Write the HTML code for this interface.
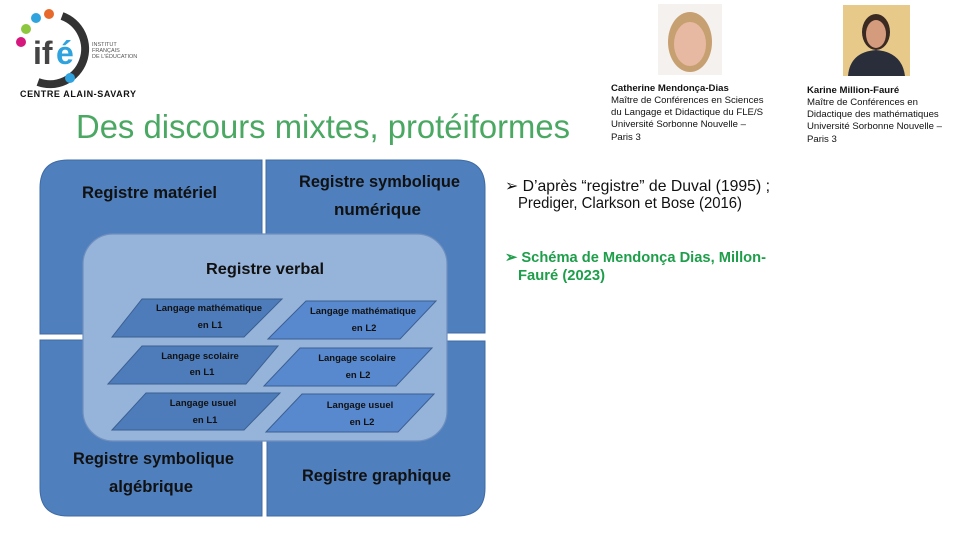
<!DOCTYPE html>
<html><head><meta charset="utf-8"><style>
html,body{margin:0;padding:0;background:#fff;}
svg{display:block;font-family:"Liberation Sans",sans-serif;}
</style></head><body>
<svg width="960" height="540" viewBox="0 0 960 540" xmlns="http://www.w3.org/2000/svg">
<!-- logo -->
<path d="M62 16 A34 34 0 1 1 38 82" fill="none" stroke="#333" stroke-width="8"/>
<circle cx="49" cy="14" r="5" fill="#e8692c"/>
<circle cx="36" cy="18" r="5" fill="#2fa3dd"/>
<circle cx="26" cy="29" r="5" fill="#8dc63f"/>
<circle cx="21" cy="42" r="5" fill="#d6177d"/>
<circle cx="70" cy="78" r="5" fill="#2fa3dd"/>
<text x="33" y="64" font-size="32" fill="#444" font-weight="bold">if</text>
<text x="56" y="64" font-size="32" fill="#2fa3dd" font-weight="bold">é</text>
<text x="92" y="46" font-size="5.5" fill="#555">INSTITUT</text>
<text x="92" y="52" font-size="5.5" fill="#555">FRANÇAIS</text>
<text x="92" y="58" font-size="5.5" fill="#555">DE L'ÉDUCATION</text>
<text x="20" y="97" font-size="9" font-weight="bold" fill="#111" textLength="116">CENTRE ALAIN-SAVARY</text>
<!-- photos -->
<rect x="658" y="4" width="64" height="71" fill="#f4f1ee"/>
<ellipse cx="690" cy="42" rx="22" ry="30" fill="#c7a071"/>
<ellipse cx="690" cy="44" rx="16" ry="22" fill="#e7b9a2"/>
<rect x="843" y="5" width="67" height="71" fill="#e7c98a"/>
<ellipse cx="876" cy="32" rx="14" ry="18" fill="#3a2a22"/>
<ellipse cx="876" cy="34" rx="10" ry="14" fill="#d49b7c"/>
<path d="M848 76 Q850 52 876 50 Q902 52 905 76 Z" fill="#2a2d3a"/>
<g font-size="9.6" fill="#111">
<text x="611" y="91" font-weight="bold">Catherine Mendonça-Dias</text>
<text x="611" y="103">Maître de Conférences en Sciences</text>
<text x="611" y="115">du Langage et Didactique du FLE/S</text>
<text x="611" y="127">Université Sorbonne Nouvelle –</text>
<text x="611" y="140">Paris 3</text>
<text x="807" y="93" font-weight="bold">Karine Million-Fauré</text>
<text x="807" y="105">Maître de Conférences en</text>
<text x="807" y="117">Didactique des mathématiques</text>
<text x="807" y="129">Université Sorbonne Nouvelle –</text>
<text x="807" y="142">Paris 3</text>
</g>
<!-- title -->
<text x="76" y="138" font-size="33" fill="#4aa863" textLength="494" lengthAdjust="spacingAndGlyphs">Des discours mixtes, protéiformes</text>
<!-- quadrants -->
<g fill="#4f7fbc" stroke="#3f6ba3" stroke-width="1">
<path d="M40 334 V188 Q40 160 68 160 H262 V334 Z"/>
<path d="M266 160 H457 Q485 160 485 188 V333 H266 Z"/>
<path d="M40 340 H262 V516 H68 Q40 516 40 488 Z"/>
<path d="M267 341 H485 V488 Q485 516 457 516 H267 Z"/>
</g>
<g font-size="17" font-weight="bold" fill="#111" lengthAdjust="spacingAndGlyphs">
<text x="82" y="198" textLength="135" lengthAdjust="spacingAndGlyphs">Registre matériel</text>
<text x="299" y="187" textLength="161" lengthAdjust="spacingAndGlyphs">Registre symbolique</text>
<text x="334" y="215" textLength="87" lengthAdjust="spacingAndGlyphs">numérique</text>
<text x="73" y="464" textLength="161" lengthAdjust="spacingAndGlyphs">Registre symbolique</text>
<text x="109" y="492" textLength="84" lengthAdjust="spacingAndGlyphs">algébrique</text>
<text x="302" y="481" textLength="149" lengthAdjust="spacingAndGlyphs">Registre graphique</text>
</g>
<rect x="83" y="234" width="364" height="207" rx="30" fill="#96b3d9" stroke="#6f8fbf" stroke-width="1.2"/>
<text x="206" y="274" font-size="16" font-weight="bold" fill="#111" textLength="118" lengthAdjust="spacingAndGlyphs">Registre verbal</text>
<g stroke="#3b5f92" stroke-width="1">
<polygon points="112,337 142,299 282,299 244,337" fill="#4e7cbb"/>
<polygon points="108,384 142,346 278,346 246,384" fill="#4e7cbb"/>
<polygon points="112,430 146,393 280,393 244,430" fill="#4e7cbb"/>
<polygon points="268,339 306,301 436,301 400,339" fill="#5889cf"/>
<polygon points="264,386 300,348 432,348 396,386" fill="#5889cf"/>
<polygon points="266,432 302,394 434,394 398,432" fill="#5889cf"/>
</g>
<g font-size="9.5" font-weight="bold" fill="#111" text-anchor="middle">
<text x="209" y="311">Langage mathématique</text><text x="210" y="328">en L1</text>
<text x="200" y="359">Langage scolaire</text><text x="202" y="375">en L1</text>
<text x="203" y="406">Langage usuel</text><text x="205" y="423">en L1</text>
<text x="363" y="314">Langage mathématique</text><text x="364" y="331">en L2</text>
<text x="357" y="361">Langage scolaire</text><text x="358" y="378">en L2</text>
<text x="360" y="408">Langage usuel</text><text x="362" y="425">en L2</text>
</g>
<!-- bullets -->
<g font-size="16" fill="#111">
<text x="505" y="191" textLength="265" lengthAdjust="spacingAndGlyphs">➢ D’après “registre” de Duval (1995) ;</text>
<text x="518" y="208" textLength="224" lengthAdjust="spacingAndGlyphs">Prediger, Clarkson et Bose (2016)</text>
</g>
<g font-size="15" fill="#1e9e4a" font-weight="bold">
<text x="505" y="262" textLength="261" lengthAdjust="spacingAndGlyphs">➢  Schéma de Mendonça Dias, Millon-</text>
<text x="518" y="280" textLength="87" lengthAdjust="spacingAndGlyphs">Fauré (2023)</text>
</g>
</svg>
</body></html>
